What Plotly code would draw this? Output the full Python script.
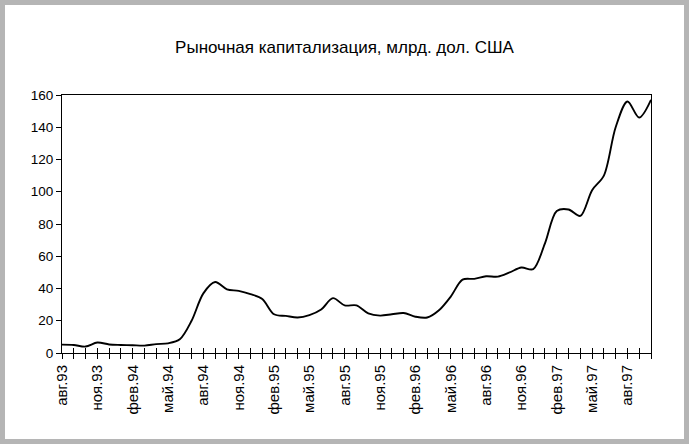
import plotly.graph_objects as go

# Months: авг.93 .. окт.97
month_names = ["янв", "фев", "мар", "апр", "май", "июн", "июл", "авг", "сен", "окт", "ноя", "дек"]
months = []
m, y = 7, 93
for _ in range(51):
    months.append(f"{month_names[m]}.{y:02d}")
    m += 1
    if m == 12:
        m, y = 0, y + 1

market_cap = [5.2, 5.0, 4.0, 6.5, 5.3, 5.0, 4.8, 4.6, 5.5, 6.0,
              8.5, 20.0, 37.0, 44.0, 39.5, 38.5, 36.5, 33.5, 24.0, 23.0,
              22.0, 23.5, 27.0, 34.0, 29.5, 29.5, 24.5, 23.2, 24.0, 24.8,
              22.5, 22.0, 26.5, 35.0, 45.5, 46.0, 47.6, 47.4, 50.0, 53.0,
              52.0, 68.0, 88.0, 89.0, 85.0, 101.0, 110.0, 140.0, 156.0, 146.0,
              157.0]

tick_text = [lab if i % 3 == 0 else "" for i, lab in enumerate(months)]
y_ticks = [0, 20, 40, 60, 80, 100, 120, 140, 160]

title = "Рыночная капитализация, млрд. дол. США"

W, H = 689, 445
L, R, T, B = 62, 651, 95, 353

fig = go.Figure()
fig.add_trace(go.Scatter(x=months, y=market_cap, mode="lines",
                         line=dict(color="black", width=1.9, shape="spline", smoothing=0.9),
                         hoverinfo="skip", showlegend=False))
# invisible trace for crossing (inside) ticks
fig.add_trace(go.Scatter(x=months, y=market_cap, xaxis="x2", mode="lines",
                         line=dict(color="rgba(0,0,0,0)"), hoverinfo="skip", showlegend=False))

y_font = dict(family="Liberation Sans, Arial, sans-serif", size=13.5, color="black")
x_font = dict(family="Liberation Sans, Arial, sans-serif", size=15, color="black")

fig.update_layout(
    width=W, height=H,
    margin=dict(l=L, r=W - R, t=T, b=H - B, pad=0),
    paper_bgcolor="white", plot_bgcolor="white",
    title=dict(text=title, x=0.5, xanchor="center", y=1 - 47 / H, yanchor="middle",
               font=dict(family="Liberation Sans, Arial, sans-serif", size=17, color="black")),
    xaxis=dict(type="category", range=[0, 50], tickmode="array", tickvals=months, ticktext=tick_text,
               tickangle=-90, ticks="outside", ticklen=5, tickwidth=1, tickcolor="black",
               showline=True, linecolor="black", linewidth=1, mirror=True,
               showgrid=False, zeroline=False, tickfont=x_font),
    xaxis2=dict(type="category", overlaying="x", anchor="y", side="bottom", range=[0, 50],
                tickmode="array", tickvals=months, ticks="inside", ticklen=5, tickwidth=1,
                tickcolor="black", showticklabels=False, showline=False, showgrid=False,
                zeroline=False),
    yaxis=dict(range=[0, 160], tickmode="array", tickvals=y_ticks, ticks="outside", ticklen=5,
               tickwidth=1, tickcolor="black", showline=True, linecolor="black", linewidth=1,
               mirror=True, showgrid=False, zeroline=False, tickfont=y_font),
    shapes=[dict(type="rect", xref="paper", yref="paper",
                 x0=(2.5 - L) / (R - L), x1=(686.5 - L) / (R - L),
                 y0=(B - 441.5) / (B - T), y1=(B - 2.5) / (B - T),
                 line=dict(color="#b5b5b5", width=5), layer="below")],
)

fig.write_html("out.html", config={"displayModeBar": False},
               post_script="document.body.style.margin='0';")
